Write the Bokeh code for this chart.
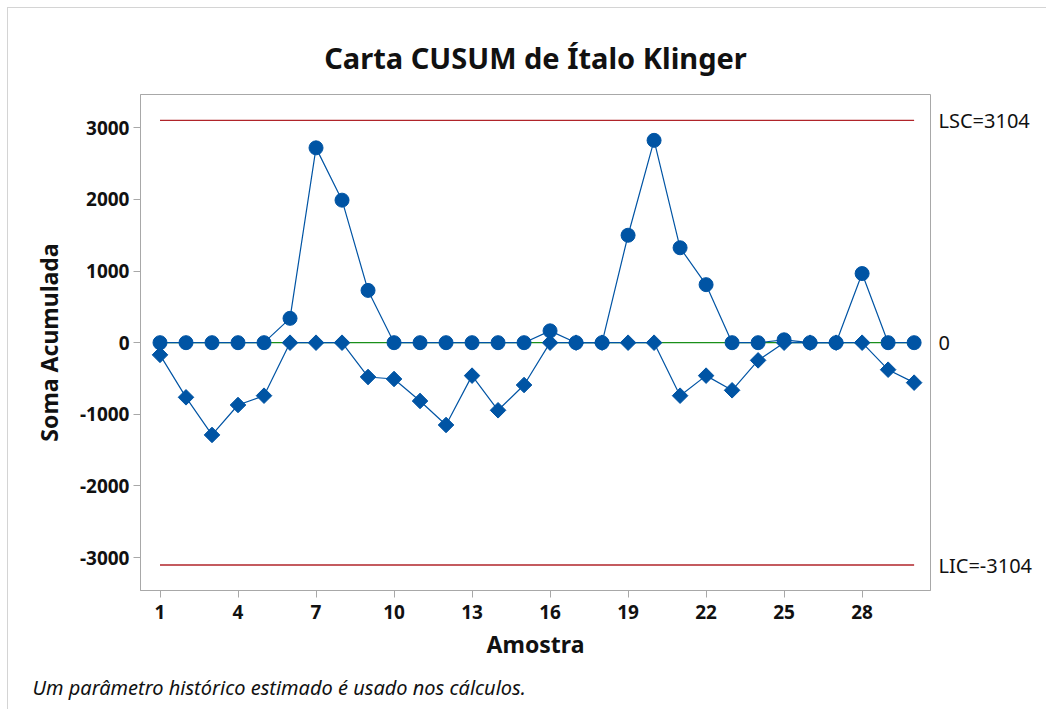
from bokeh.plotting import figure
from bokeh.models import Range1d, FixedTicker, LinearAxis, Title, ColumnDataSource
from bokeh.embed import file_html
from bokeh.resources import INLINE

amostra = list(range(1, 31))
cusum_sup = [0, 0, 0, 0, 0, 340, 2720, 1990, 730, 0,
             0, 0, 0, 0, 0, 165, 0, 0, 1500, 2825,
             1325, 810, 0, 0, 40, 0, 0, 965, 0, 0]
cusum_inf = [-170, -763, -1288, -870, -740, 0, 0, 0, -479, -507,
             -814, -1149, -460, -944, -591, 0, 0, 0, 0, 0,
             -740, -460, -665, -247, 0, 0, 0, 0, -377, -558]
lsc = 3104
lic = -3104
centro = 0
x_ticks = [1, 4, 7, 10, 13, 16, 19, 22, 25, 28]
y_ticks = [-3000, -2000, -1000, 0, 1000, 2000, 3000]
y_tick_labels = ["-3000", "-2000", "-1000", "0", "1000", "2000", "3000"]

BLUE = "#0054A4"
RED = "#B0242A"
GREEN = "#1A8F1A"
GRAY = "#A8A8A8"
FONT = "Noto Sans"

p = figure(width=1039, height=702, output_backend="svg", toolbar_location=None,
           x_range=Range1d(0.25, 30.63), y_range=Range1d(-3460, 3465),
           min_border_left=132, min_border_right=117, min_border_top=86, min_border_bottom=120,
           title="Carta CUSUM de Ítalo Klinger")
p.styles = {"margin-left": "7px", "margin-top": "7px",
            "border-top": "1px solid #D4D4D4", "border-left": "1px solid #D4D4D4"}

p.title.align = "center"
p.title.text_font = FONT
p.title.text_font_size = "29px"
p.title.text_font_style = "bold"
p.title.text_color = "#111111"
p.title.standoff = 36

p.grid.visible = False
p.outline_line_color = GRAY
p.outline_line_width = 1

for ax in (p.xaxis[0], p.yaxis[0]):
    ax.axis_line_color = GRAY
    ax.major_tick_line_color = GRAY
    ax.minor_tick_line_color = None
    ax.major_tick_out = 7
    ax.major_tick_in = 0
    ax.major_label_text_font = FONT
    ax.major_label_text_font_size = "19px"
    ax.major_label_text_font_style = "bold"
    ax.major_label_text_color = "#111111"
    ax.axis_label_text_font = FONT
    ax.axis_label_text_font_size = "23px"
    ax.axis_label_text_font_style = "bold"
    ax.axis_label_text_color = "#111111"

p.xaxis.ticker = FixedTicker(ticks=x_ticks)
p.yaxis.ticker = FixedTicker(ticks=y_ticks)
p.yaxis.major_label_overrides = dict(zip(y_ticks, y_tick_labels))
p.xaxis.axis_label = "Amostra"
p.yaxis.axis_label = "Soma Acumulada"
p.xaxis.major_label_standoff = 7
p.yaxis.major_label_standoff = 4
p.xaxis.axis_label_standoff = 6
p.yaxis.axis_label_standoff = 12

right = LinearAxis(ticker=FixedTicker(ticks=[lic, centro, lsc]),
                   major_label_overrides={lsc: "LSC=3104", centro: "0", lic: "LIC=-3104"},
                   axis_line_color=None, major_tick_line_color=None, minor_tick_line_color=None,
                   major_tick_out=0, major_tick_in=0,
                   major_label_standoff=8, major_label_text_font=FONT,
                   major_label_text_font_size="20px", major_label_text_color="#111111")
p.add_layout(right, "right")

x0, x1 = amostra[0], amostra[-1]
p.line([x0, x1], [centro, centro], line_color=GREEN, line_width=1.3)
p.line([x0, x1], [lsc, lsc], line_color=RED, line_width=1.3)
p.line([x0, x1], [lic, lic], line_color=RED, line_width=1.3)

src = ColumnDataSource(dict(x=amostra, sup=cusum_sup, inf=cusum_inf))
p.line("x", "inf", source=src, line_color=BLUE, line_width=1.2)
p.line("x", "sup", source=src, line_color=BLUE, line_width=1.2)
p.scatter("x", "inf", source=src, marker="square", size=11, angle=0.785398,
          fill_color=BLUE, line_color=BLUE)
p.scatter("x", "sup", source=src, marker="circle", size=14,
          fill_color=BLUE, line_color=BLUE)

nota = Title(text="Um parâmetro histórico estimado é usado nos cálculos.",
             align="left", offset=-108, standoff=19,
             text_font=FONT, text_font_size="20px", text_font_style="italic",
             text_color="#111111")
p.add_layout(nota, "below")

open("out.html", "w").write(file_html(p, INLINE))
